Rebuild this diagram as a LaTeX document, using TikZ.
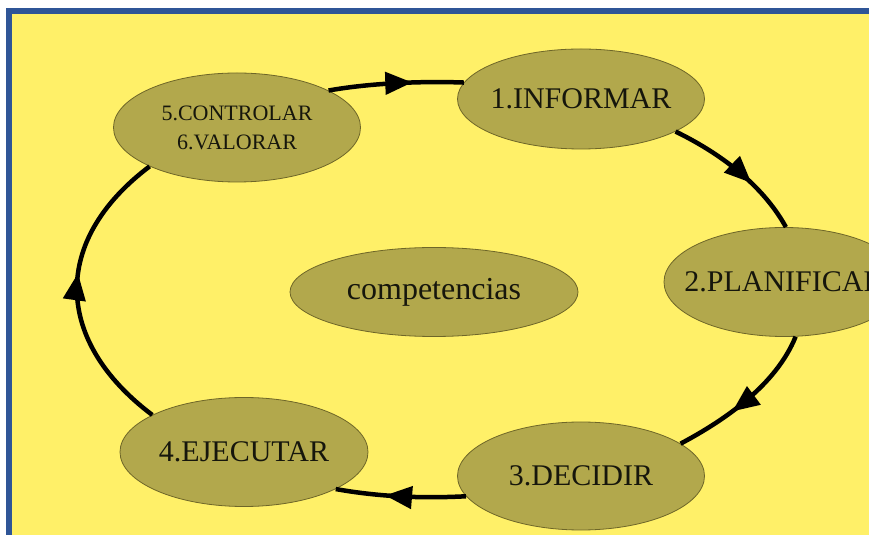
\documentclass[tikz,border=0pt]{standalone}
\usepackage{fontspec}
\setmainfont{Liberation Serif}
\usetikzlibrary{shapes.geometric,arrows.meta,decorations.markings}
\definecolor{bgyellow}{HTML}{FFF068}
\definecolor{frameblue}{HTML}{2F5597}
\definecolor{olivefill}{HTML}{B2A84C}
\definecolor{olivedraw}{HTML}{6E6628}
\definecolor{txt}{HTML}{16160C}
\newcommand{\zw}[1]{\makebox[0pt]{#1}}
\begin{document}
\begin{tikzpicture}[x=1pt,y=1pt,
  stage/.style={ellipse, fill=olivefill, draw=olivedraw, line width=0.8pt, inner sep=0pt,
    text=txt, font=\fontsize{30}{30}\selectfont, minimum width=247pt, minimum height=108pt},
  flow/.style={line width=4.5pt, draw=black, postaction={decorate},
    decoration={markings, mark=at position #1 with {\arrow{Triangle[length=27pt,width=22pt]}}}},
  flow/.default=0.62]
\fill[white] (0,0) rectangle (869,535);
\useasboundingbox (0,0) rectangle (869,535);
\fill[frameblue] (6,0) rectangle (869,527);
\fill[bgyellow] (12,0) rectangle (869,521);

\node[stage, minimum height=109pt, font=\fontsize{22}{29}\selectfont, align=center] (n56) at (237,407.5) {5.CONTROLAR\\6.VALORAR};
\node[stage, minimum height=100pt] (n1) at (581,436) {\zw{1.INFORMAR}};
\node[stage, minimum width=240pt, minimum height=109pt] (n2) at (784,253) {\zw{2.PLANIFICAR}};
\node[stage, minimum width=288pt, minimum height=89pt, font=\fontsize{32}{32}\selectfont] (comp) at (434,243) {\zw{competencias}};
\node[stage, minimum width=248pt, minimum height=109pt] (n4) at (244,83) {\zw{4.EJECUTAR}};
\node[stage, minimum height=108pt] (n3) at (581,59) {\zw{3.DECIDIR}};

\draw[flow] (n56.22) to[out=10,in=178,looseness=0.81] (n1.172);
\draw[flow] (n1.-19) to[out=-26,in=119,looseness=0.86] (n2.88);
\draw[flow] (n2.-78) to[out=-112,in=28,looseness=0.84] (n3.18);
\draw[flow] (n3.190) to[out=183,in=-10,looseness=0.87] (n4.-22);
\draw[flow=0.56] (n4.158) to[out=143,in=217,looseness=1.27] (n56.204);
\end{tikzpicture}
\end{document}
